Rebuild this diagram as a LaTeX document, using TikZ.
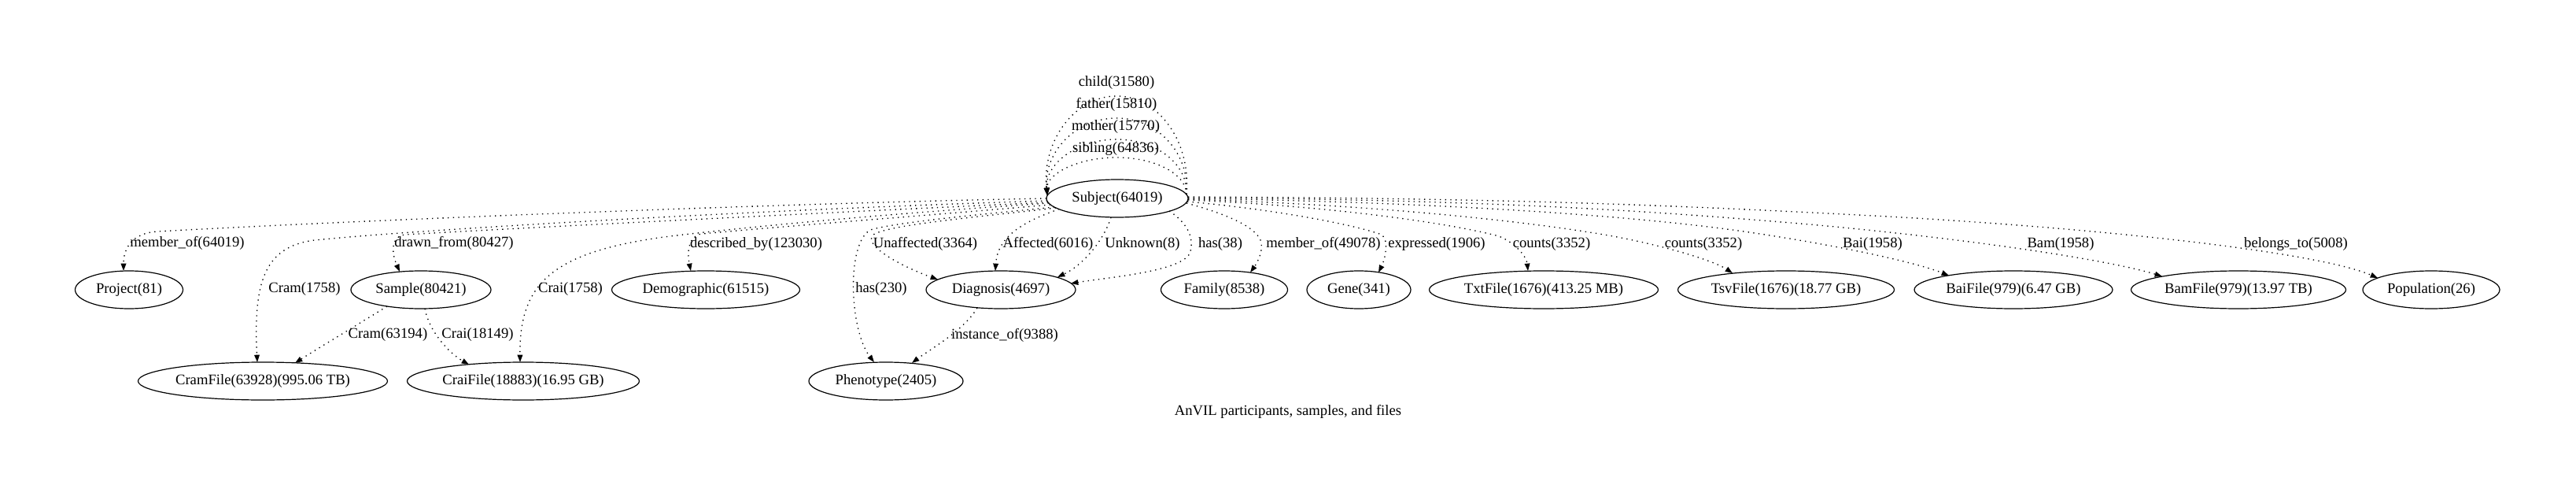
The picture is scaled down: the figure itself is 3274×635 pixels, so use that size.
\documentclass[tikz,border=0pt]{standalone}
\usepackage{fontspec}
\setmainfont{Liberation Serif}
\usetikzlibrary{shapes.geometric,arrows.meta,calc}
\begin{document}
\begin{tikzpicture}[x=0.75pt,y=-0.75pt,
  ent/.style={draw,ellipse,line width=0.9pt,minimum height=36pt,inner sep=0pt,outer sep=0pt,font=\fontsize{14}{16}\selectfont},
  lbl/.style={inner sep=0pt,font=\fontsize{14}{16}\selectfont},
  rel/.style={line width=1pt,dash pattern=on 1pt off 4pt,-{Triangle[length=7pt,width=5pt]}}]
\useasboundingbox (0,0) rectangle (3274,635);

% nodes
\node[ent,minimum width=135pt] (Subject) at (1420,252) {Subject(64019)};
\node[ent,minimum width=102.75pt] (Project) at (164,368) {Project(81)};
\node[ent,minimum width=133.5pt] (Sample) at (535,368) {Sample(80421)};
\node[ent,minimum width=179.25pt] (Demographic) at (897,368) {Demographic(61515)};
\node[ent,minimum width=142.5pt] (Diagnosis) at (1272,368) {Diagnosis(4697)};
\node[ent,minimum width=120.75pt] (Family) at (1556,368) {Family(8538)};
\node[ent,minimum width=99pt] (Gene) at (1727,368) {Gene(341)};
\node[ent,minimum width=218.25pt] (TxtFile) at (1962,368) {TxtFile(1676)(413.25 MB)};
\node[ent,minimum width=206.25pt] (TsvFile) at (2270,368) {TsvFile(1676)(18.77 GB)};
\node[ent,minimum width=189pt] (BaiFile) at (2559,368) {BaiFile(979)(6.47 GB)};
\node[ent,minimum width=204.75pt] (BamFile) at (2845,368) {BamFile(979)(13.97 TB)};
\node[ent,minimum width=130.5pt] (Population) at (3090,368) {Population(26)};
\node[ent,minimum width=237.75pt] (CramFile) at (334,484) {CramFile(63928)(995.06 TB)};
\node[ent,minimum width=221.25pt] (CraiFile) at (665,484) {CraiFile(18883)(16.95 GB)};
\node[ent,minimum width=147pt] (Phenotype) at (1126,484) {Phenotype(2405)};

% self loops
\draw[rel] ($(Subject.center)+(88,-5)$) .. controls (1514,178) and (1471,122) .. (1419,122) .. controls (1367,122) and (1324,178) .. ($(Subject.center)+(-89,-4)$);
\draw[rel] ($(Subject.center)+(88,-5)$) .. controls (1512,193) and (1470,150) .. (1419,150) .. controls (1368,150) and (1326,193) .. ($(Subject.center)+(-89,-4)$);
\draw[rel] ($(Subject.center)+(88,-5)$) .. controls (1510,208) and (1469,177) .. (1419,177) .. controls (1369,177) and (1328,208) .. ($(Subject.center)+(-89,-4)$);
\draw[rel] ($(Subject.center)+(88,-5)$) .. controls (1508,221) and (1468,200) .. (1419,200) .. controls (1370,200) and (1330,221) .. ($(Subject.center)+(-89,-4)$);
\node[lbl] (lchild) at (1419,105) {child(31580)};
\node[lbl] (lfather) at (1419,133) {father(15810)};
\node[lbl] (lmother) at (1418,161) {mother(15770)};
\node[lbl] (lsibling) at (1418,189) {sibling(64836)};

% left-going edges from Subject
\draw[rel] ($(Subject.center)+(-90,0)$) .. controls (1000,258) and (450,280) .. (200,294) .. controls (168,296) and (157,315) .. ($(Project.center)+(-7,-24)$);
\draw[rel] ($(Subject.center)+(-89,3)$) .. controls (1000,265) and (550,290) .. (400,305) .. controls (335,313) and (322,360) .. ($(CramFile.center)+(-7,-24)$);
\draw[rel] ($(Subject.center)+(-88,5)$) .. controls (1050,270) and (650,290) .. (515,298) .. controls (497,300) and (497,320) .. ($(Sample.center)+(-27,-23)$);
\draw[rel] ($(Subject.center)+(-87,6)$) .. controls (1150,270) and (980,285) .. (860,299) .. controls (700,318) and (660,360) .. ($(CraiFile.center)+(-4,-24)$);
\draw[rel] ($(Subject.center)+(-85,8)$) .. controls (1200,272) and (1000,287) .. (892,297) .. controls (875,299) and (873,320) .. ($(Demographic.center)+(-19,-24)$);
\draw[rel] ($(Subject.center)+(-80,11)$) .. controls (1250,272) and (1140,282) .. (1106,292) .. controls (1075,310) and (1080,420) .. ($(Phenotype.center)+(-15,-24)$);
\draw[rel] ($(Subject.center)+(-78,12)$) .. controls (1250,275) and (1130,285) .. (1110,298) .. controls (1095,312) and (1150,340) .. ($(Diagnosis.center)+(-80,-13)$);
\draw[rel] ($(Subject.center)+(-74,13.5)$) .. controls (1300,282) and (1268,300) .. ($(Diagnosis.center)+(-7,-24)$);
\draw[rel] ($(Subject.center)+(-8,24)$) .. controls (1405,300) and (1380,335) .. ($(Diagnosis.center)+(72,-16)$);
\draw[rel] ($(Subject.center)+(66,16)$) .. controls (1505,280) and (1520,300) .. (1512,322) .. controls (1500,345) and (1410,352) .. ($(Diagnosis.center)+(89,-8)$);

% right-going edges from Subject
\draw[rel] ($(Subject.center)+(88,6)$) .. controls (1560,272) and (1595,288) .. (1602,305) .. controls (1607,318) and (1597,335) .. ($(Family.center)+(33,-22)$);
\draw[rel] ($(Subject.center)+(89,4)$) .. controls (1620,266) and (1720,285) .. (1756,298) .. controls (1766,305) and (1760,330) .. ($(Gene.center)+(25,-22)$);
\draw[rel] ($(Subject.center)+(90,2)$) .. controls (1700,262) and (1850,285) .. (1905,300) .. controls (1925,308) and (1940,325) .. ($(TxtFile.center)+(-20,-24)$);
\draw[rel] ($(Subject.center)+(90,1)$) .. controls (1750,260) and (1950,282) .. (2050,300) .. controls (2120,313) and (2180,332) .. ($(TsvFile.center)+(-68,-21)$);
\draw[rel] ($(Subject.center)+(90,0)$) .. controls (1850,257) and (2100,276) .. (2230,296) .. controls (2350,314) and (2440,335) .. ($(BaiFile.center)+(-82,-18)$);
\draw[rel] ($(Subject.center)+(90,-1)$) .. controls (1900,254) and (2100,268) .. (2300,285) .. controls (2500,303) and (2680,330) .. ($(BamFile.center)+(-97,-17)$);
\draw[rel] ($(Subject.center)+(90,-2)$) .. controls (1950,252) and (2150,262) .. (2400,275) .. controls (2700,292) and (2950,322) .. ($(Population.center)+(-68,-15)$);

% lower edges
\draw[rel] ($(Sample.center)+(-43,21)$) .. controls (455,412) and (400,445) .. ($(CramFile.center)+(41,-23)$);
\draw[rel] ($(Sample.center)+(5,24)$) .. controls (545,420) and (570,448) .. ($(CraiFile.center)+(-69,-21)$);
\draw[rel] ($(Diagnosis.center)+(-30,23)$) .. controls (1225,420) and (1180,445) .. ($(Phenotype.center)+(33,-23)$);

% edge labels
\node[lbl] (l1) at (238,309) {member\_of(64019)};
\node[lbl] (l2) at (387,367) {Cram(1758)};
\node[lbl] (l3) at (577,309) {drawn\_from(80427)};
\node[lbl] (l4) at (725,367) {Crai(1758)};
\node[lbl] (l5) at (961,310) {described\_by(123030)};
\node[lbl] (l6) at (1120,367) {has(230)};
\node[lbl] (l7) at (1176,310) {Unaffected(3364)};
\node[lbl] (l8) at (1332,310) {Affected(6016)};
\node[lbl] (l9) at (1452,310) {Unknown(8)};
\node[lbl] (l10) at (1551,310) {has(38)};
\node[lbl] (l11) at (1682,310) {member\_of(49078)};
\node[lbl] (l12) at (1826,310) {expressed(1906)};
\node[lbl] (l13) at (1972,310) {counts(3352)};
\node[lbl] (l14) at (2165,310) {counts(3352)};
\node[lbl] (l15) at (2380,310) {Bai(1958)};
\node[lbl] (l16) at (2619,310) {Bam(1958)};
\node[lbl] (l17) at (2918,310) {belongs\_to(5008)};
\node[lbl] (l18) at (493,425) {Cram(63194)};
\node[lbl] (l19) at (607,425) {Crai(18149)};
\node[lbl] (l20) at (1277,426) {instance\_of(9388)};

\node[lbl] (caption) at (1637,523) {AnVIL participants, samples, and files};
\end{tikzpicture}
\end{document}
